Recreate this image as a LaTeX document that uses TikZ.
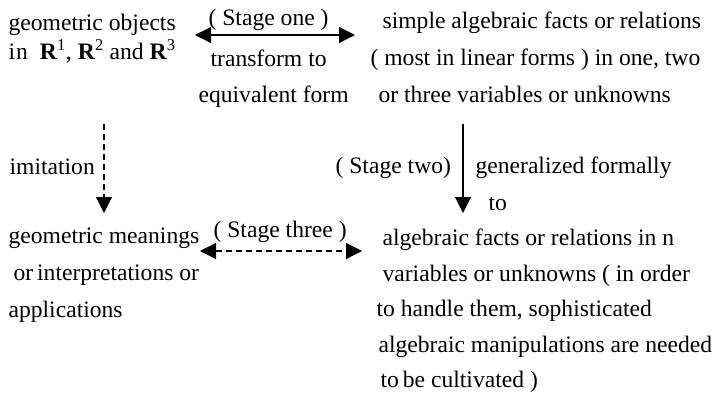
\documentclass[tikz,border=0pt]{standalone}
\usepackage{fontspec}
\setmainfont{Liberation Serif}
\usetikzlibrary{arrows.meta,positioning}

\newcommand{\bR}[1]{\textbf{R}\textsuperscript{#1}}

\tikzset{
  block/.style={inner sep=0pt, align=left, anchor=north west},
  word/.style={inner sep=0pt, anchor=base west},
  tip/.style={-{Triangle[length=16pt,width=16pt]}},
  dbltip/.style={{Triangle[length=16pt,width=16pt]}-{Triangle[length=16pt,width=16pt]}},
  dashy/.style={dash pattern=on 6pt off 4pt},
}

\begin{document}
\begin{tikzpicture}[x=1pt, y=-1pt, line width=1.2pt,
    font=\fontsize{23.6}{37}\selectfont]
  \useasboundingbox (0,0) rectangle (720,394);

  % top row
  \node[block, font=\fontsize{23.6}{28}\selectfont] (geo) at (8,10.4)
    {\strut geometric objects\\
     i\kern1pt n\hspace{12pt}\bR{1}, \bR{2} and \bR{3}};
  \node[block, font=\fontsize{23.6}{36}\selectfont] (trans) at (198,40.8)
    {\strut\hspace*{12pt}transform to\\equivalent form};
  \node[block] (simple) at (370,2.1)
    {\strut\hspace*{12pt}simple algebraic facts or relations\\
     ( most in linear forms ) in one, two\\
     \hspace*{8pt}or three variables or unknowns};

  \coordinate (s1a) at (195,35);
  \coordinate (s1b) at (355,35);
  \draw[dbltip] (s1a) -- (s1b);
  \node[word] (stone) at (208,25) {( Stage one )};

  % middle row
  \coordinate (ima) at (104,124);
  \coordinate (imb) at (104,213);
  \draw[tip, dashy] (ima) -- (imb);
  \node[word] (imit) at (9,174) {imitation};

  \coordinate (gena) at (463,124);
  \coordinate (genb) at (463,213);
  \draw[tip] (gena) -- (genb);
  \node[word] (sttwo) at (335,173) {( Stage two)};
  \node[block] (gen) at (475,147.1)
    {\strut generalized formally\\\hspace*{13pt}to};

  % bottom row
  \node[block] (meaning) at (8,217.1)
    {\strut geometric meanings\\
     \hspace*{5pt}or\,interpretations or\\
     applications};

  \coordinate (s3a) at (200,251);
  \coordinate (s3b) at (362,251);
  \draw[dbltip, dashy] (s3a) -- (s3b);
  \node[word] (stthree) at (213,237) {( Stage three )};

  \node[block, font=\fontsize{23.6}{35.5}\selectfont] (alg) at (376,220.2)
    {\strut\hspace*{6pt}algebraic facts or relations in n\\
     \hspace*{6pt}variables or unknowns ( in order\\
     to handle them, sophisticated\\
     \hspace*{2pt}algebraic manipulations are needed\\
     \hspace*{4pt}to\,be cultivated )};
\end{tikzpicture}
\end{document}
